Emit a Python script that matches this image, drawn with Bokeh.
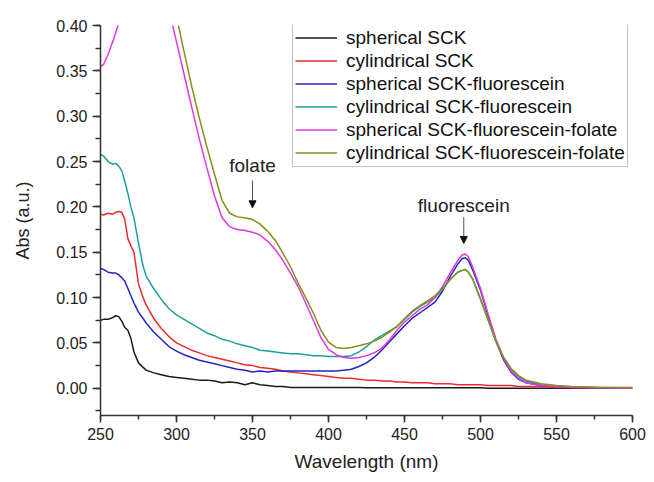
from bokeh.plotting import figure
from bokeh.models import (Range1d, SingleIntervalTicker, NumeralTickFormatter, Legend, LegendItem,
                          Label, Arrow, NormalHead)
from bokeh.embed import file_html
from bokeh.resources import INLINE

# ---------------- data ----------------
wavelength = [250, 252, 255, 258, 260, 262, 264, 266, 268, 270,
              272, 275, 278, 280, 285, 290, 295, 300, 305, 310,
              315, 320, 325, 330, 335, 340, 345, 350, 355, 360,
              365, 370, 375, 380, 385, 390, 395, 400, 405, 410,
              415, 420, 425, 430, 435, 440, 445, 450, 455, 460,
              465, 470, 475, 480, 485, 488, 490, 492, 495, 500,
              505, 510, 515, 520, 525, 530, 540, 550, 560, 580,
              600]

spherical_sck = [0.075, 0.076, 0.076, 0.078, 0.080, 0.079, 0.074, 0.067, 0.064, 0.055,
                 0.040, 0.028, 0.023, 0.020, 0.017, 0.015, 0.013, 0.012, 0.011, 0.010,
                 0.009, 0.009, 0.008, 0.006, 0.007, 0.006, 0.004, 0.006, 0.004, 0.003,
                 0.002, 0.002, 0.001, 0.001, 0.001, 0.001, 0.001, 0.001, 0.001, 0.001,
                 0.001, 0.001, 0.0005, 0.0005, 0.0005, 0.0005, 0.0005, 0.0005, 0.0005, 0.0005,
                 0.0005, 0.0005, 0.0005, 0.0005, 0.0005, 0.0005, 0.0005, 0.0005, 0.0005, 0.0005,
                 0.0, 0.0, 0.0, 0.0, 0.0, 0.0, 0.0, 0.0, 0.0, 0.0,
                 0.0]

cylindrical_sck = [0.192, 0.191, 0.193, 0.192, 0.194, 0.195, 0.194, 0.186, 0.165, 0.157,
                   0.150, 0.115, 0.100, 0.092, 0.077, 0.066, 0.057, 0.050, 0.046, 0.042,
                   0.039, 0.036, 0.034, 0.032, 0.030, 0.028, 0.026, 0.025, 0.023, 0.022,
                   0.021, 0.019, 0.018, 0.017, 0.016, 0.015, 0.014, 0.013, 0.012, 0.011,
                   0.011, 0.010, 0.009, 0.009, 0.008, 0.008, 0.007, 0.007, 0.006, 0.006,
                   0.006, 0.005, 0.005, 0.005, 0.004, 0.004, 0.004, 0.004, 0.004, 0.004,
                   0.003, 0.003, 0.003, 0.003, 0.002, 0.002, 0.002, 0.001, 0.001, 0.0005,
                   0.0]

spherical_sck_fl = [0.132, 0.131, 0.128, 0.127, 0.127, 0.125, 0.122, 0.118, 0.110, 0.102,
                    0.094, 0.084, 0.077, 0.072, 0.062, 0.054, 0.046, 0.041, 0.037, 0.034,
                    0.031, 0.029, 0.027, 0.025, 0.023, 0.021, 0.020, 0.018, 0.019, 0.018,
                    0.019, 0.019, 0.019, 0.019, 0.019, 0.019, 0.019, 0.019, 0.019, 0.020,
                    0.021, 0.024, 0.028, 0.034, 0.042, 0.051, 0.060, 0.069, 0.077, 0.083,
                    0.089, 0.095, 0.107, 0.123, 0.137, 0.143, 0.144, 0.141, 0.130, 0.108,
                    0.080, 0.053, 0.032, 0.018, 0.010, 0.006, 0.003, 0.002, 0.001, 0.0005,
                    0.0]

cylindrical_sck_fl = [0.258, 0.256, 0.250, 0.247, 0.248, 0.245, 0.240, 0.228, 0.215, 0.200,
                      0.188, 0.160, 0.135, 0.124, 0.110, 0.098, 0.088, 0.081, 0.076, 0.071,
                      0.066, 0.061, 0.058, 0.054, 0.052, 0.049, 0.047, 0.045, 0.042, 0.041,
                      0.040, 0.039, 0.038, 0.038, 0.037, 0.036, 0.036, 0.035, 0.035, 0.035,
                      0.036, 0.040, 0.046, 0.053, 0.058, 0.063, 0.068, 0.076, 0.084, 0.090,
                      0.095, 0.100, 0.109, 0.120, 0.128, 0.130, 0.131, 0.128, 0.120, 0.098,
                      0.075, 0.052, 0.034, 0.021, 0.013, 0.008, 0.004, 0.002, 0.0015, 0.001,
                      0.0005]

spherical_sck_fl_folate = [0.355, 0.357, 0.368, 0.382, 0.392, 0.402, 0.420, 0.440, 0.450, 0.450,
                           0.450, 0.450, 0.450, 0.450, 0.450, 0.450, 0.418, 0.382, 0.346, 0.310,
                           0.275, 0.243, 0.212, 0.188, 0.178, 0.175, 0.174, 0.172, 0.169, 0.162,
                           0.153, 0.141, 0.127, 0.112, 0.094, 0.075, 0.056, 0.043, 0.037, 0.034,
                           0.033, 0.034, 0.036, 0.039, 0.044, 0.053, 0.064, 0.073, 0.080, 0.087,
                           0.092, 0.100, 0.112, 0.127, 0.141, 0.147, 0.148, 0.145, 0.133, 0.110,
                           0.082, 0.055, 0.034, 0.019, 0.011, 0.006, 0.003, 0.002, 0.001, 0.0005,
                           0.0]

cylindrical_sck_fl_folate = [0.450, 0.450, 0.450, 0.450, 0.450, 0.450, 0.450, 0.450, 0.450, 0.450,
                             0.450, 0.450, 0.450, 0.450, 0.450, 0.450, 0.450, 0.410, 0.371, 0.333,
                             0.298, 0.266, 0.236, 0.207, 0.193, 0.189, 0.188, 0.186, 0.181, 0.173,
                             0.163, 0.149, 0.134, 0.116, 0.100, 0.083, 0.064, 0.051, 0.045, 0.044,
                             0.045, 0.047, 0.049, 0.052, 0.056, 0.062, 0.068, 0.077, 0.085, 0.091,
                             0.096, 0.102, 0.110, 0.120, 0.128, 0.130, 0.131, 0.128, 0.120, 0.099,
                             0.076, 0.053, 0.035, 0.022, 0.014, 0.009, 0.005, 0.003, 0.002, 0.001,
                             0.001]

series_names = ["spherical SCK", "cylindrical SCK", "spherical SCK-fluorescein",
                "cylindrical SCK-fluorescein", "spherical SCK-fluorescein-folate",
                "cylindrical SCK-fluorescein-folate"]
series_values = [spherical_sck, cylindrical_sck, spherical_sck_fl, cylindrical_sck_fl,
                 spherical_sck_fl_folate, cylindrical_sck_fl_folate]
series_colors = ["#1a1a1a", "#ee2a2a", "#2424c0", "#1c9e9e", "#e038e0", "#8c8c18"]

# annotations: (text, x, text_y, arrow_start_y, arrow_end_y)
annot_text = ["folate", "fluorescein"]
annot_x = [350, 489]
annot_text_y = [0.2456, 0.2015]
annot_arrow_start = [0.229, 0.1887]
annot_arrow_end = [0.199, 0.1597]

FONT = "Liberation Sans"

p = figure(width=646, height=474, output_backend="svg", toolbar_location=None,
           x_range=Range1d(250, 600), y_range=Range1d(-0.03, 0.40),
           min_border_left=100, min_border_right=14, min_border_top=25, min_border_bottom=59)
p.background_fill_color = "white"
p.border_fill_color = "white"
p.outline_line_color = None
p.grid.visible = False

renderers = []
for vals, col in zip(series_values, series_colors):
    r = p.line(wavelength, vals, line_color=col, line_width=1.5)
    renderers.append(r)

# axes
p.xaxis.ticker = SingleIntervalTicker(interval=50, num_minor_ticks=2)
p.yaxis.ticker = SingleIntervalTicker(interval=0.05, num_minor_ticks=2)
p.yaxis.formatter = NumeralTickFormatter(format="0.00")
for ax in (p.xaxis, p.yaxis):
    ax.axis_line_color = "#333333"
    ax.axis_line_width = 1.5
    ax.major_tick_line_color = "#333333"
    ax.major_tick_line_width = 1.5
    ax.minor_tick_line_color = "#333333"
    ax.minor_tick_line_width = 1.5
    ax.major_tick_in = 0
    ax.minor_tick_in = 0
    ax.major_label_text_font = FONT
    ax.major_label_text_font_size = "16px"
    ax.major_label_text_color = "#222222"
    ax.axis_label_text_font = FONT
    ax.axis_label_text_font_style = "normal"
    ax.axis_label_text_color = "#222222"
p.xaxis.major_tick_out = 7
p.xaxis.minor_tick_out = 4
p.yaxis.major_tick_out = 8
p.yaxis.minor_tick_out = 5
p.xaxis.major_label_standoff = 5
p.yaxis.major_label_standoff = 5
p.xaxis.axis_label = "Wavelength (nm)"
p.yaxis.axis_label = "Abs (a.u.)"
p.xaxis.axis_label_text_font_size = "19px"
p.yaxis.axis_label_text_font_size = "18px"
p.xaxis.axis_label_standoff = 8
p.yaxis.axis_label_standoff = 20

# legend
items = [LegendItem(label=n, renderers=[r]) for n, r in zip(series_names, renderers)]
legend = Legend(items=items, location=(192, 248), padding=2, spacing=0, margin=0,
                label_height=23, glyph_height=23, glyph_width=42, label_standoff=9,
                label_text_font=FONT, label_text_font_size="19px", label_text_color="#111111",
                border_line_color="#888888", border_line_width=1, background_fill_alpha=1)
p.add_layout(legend, "center")

# annotations
for t, x, ty, ys, ye in zip(annot_text, annot_x, annot_text_y, annot_arrow_start, annot_arrow_end):
    p.add_layout(Label(x=x, y=ty, text=t, text_align="center", text_baseline="middle",
                       text_font=FONT, text_font_size="19px", text_color="#222222"))
    p.add_layout(Arrow(x_start=x, y_start=ys, x_end=x, y_end=ye, line_color="#555555", line_width=1,
                       end=NormalHead(size=7, fill_color="#111111", line_color="#111111", line_width=1)))

open("out.html", "w").write(file_html(p, INLINE))
